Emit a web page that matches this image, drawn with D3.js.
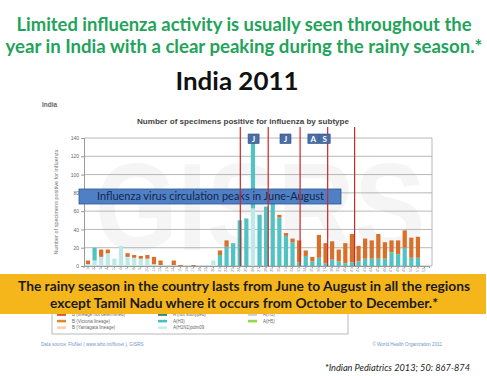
<!DOCTYPE html>
<html>
<head>
<meta charset="utf-8">
<script src="https://cdn.jsdelivr.net/npm/d3@7"></script>
<style>
  body { margin: 0; background: #fff; }
  svg { display: block; }
</style>
</head>
<body>
<svg id="chart"></svg>
<script>
// weekly positives, India 2011 (weeks 1-52)
const weeks = d3.range(1, 53);
const h1pdm = [2,6,10,14,8,22,10,9,8,8,2,1,1,1,0,0,0,0,1,6,
               0,0,0,0,0,63,0,0,0,0, 0,0,0,0,0,0,0,0,0,0,
               0,0,0,0,0,0,0,0,0,0, 0,0];
const h3    = [0,14,0,0,0,0,0,0,0,0,0,0,0,0,0,0,0,0,0,0,
               12,21,25,50,52,77,56,65,69,53, 33,26,4,11,5,9,3,7,5,3,
               4,5,8,8,8,8,15,13,20,9, 9,0];
const bVic  = [4,0,8,4,0,0,4,3,3,4,8,5,0,5,1,0,1,0,0,0,
               5,7,0,0,0,0,0,0,0,3, 3,4,24,6,5,25,22,20,13,22,
               31,17,22,20,27,18,13,15,19,22, 23,0];
const yTicks = [0, 20, 40, 60, 80, 100, 120, 140];

// month markers added on the slide (positions in weeks from start of year)
const monthLines = [23.6, 27.8, 32.6, 36.75, 40.8];
const monthLabels = ["J", "J", "A", "S"];
const monthLabelPos = [25.6, 30.4, 34.6, 36.3];

const legendCol1 = ["B (lineage not determined)", "B (Victoria lineage)", "B (Yamagata lineage)"];
const legendCol2 = ["A (not subtyped)", "A(H3)", "A(H1N1)pdm09"];
const legendCol3 = ["A(H1)", "A(H5)"];
const legendColors = {
  "B (lineage not determined)": "#e0582c", "B (Victoria lineage)": "#e0892f",
  "B (Yamagata lineage)": "#f6d2ad", "A (not subtyped)": "#2d8f72",
  "A(H3)": "#45bfbf", "A(H1N1)pdm09": "#c6eeee", "A(H1)": "#cfcfcf", "A(H5)": "#8fdc48"
};

const W = 487, H = 376;
const svg = d3.select("#chart").attr("width", W).attr("height", H);
svg.append("rect").attr("width", W).attr("height", H).attr("fill", "#fff");

// headline
const green = "#23a35a";
const head = ["Limited influenza activity is usually seen throughout the",
              "year in India with a clear peaking during the rainy season.*"];
const headW = [455, 477];
head.forEach((t, i) => {
  svg.append("text")
    .attr("x", 244).attr("y", 31 + i * 22)
    .attr("text-anchor", "middle")
    .attr("font-family", "Lato, 'Open Sans', sans-serif")
    .attr("font-weight", "bold").attr("font-size", 18)
    .attr("fill", green)
    .attr("textLength", headW[i]).attr("lengthAdjust", "spacingAndGlyphs")
    .text(t);
});

svg.append("text")
  .attr("x", 237).attr("y", 90)
  .attr("text-anchor", "middle")
  .attr("font-family", "Lato, 'Open Sans', sans-serif")
  .attr("font-weight", "bold").attr("font-size", 25)
  .attr("fill", "#111")
  .attr("textLength", 123).attr("lengthAdjust", "spacingAndGlyphs")
  .text("India 2011");

// ---- embedded FluNet chart ----
const plot = {left: 84, right: 432, top: 138, bottom: 266};

const x = d3.scaleBand().domain(weeks).range([83.5, 429]).padding(0.36);
const xw = d3.scaleLinear().domain([0, 52]).range([83.5, 429]);
const y = d3.scaleLinear().domain([0, 140]).range([plot.bottom, plot.top]);

svg.append("text").attr("x", 42).attr("y", 107)
  .attr("font-family", "'Liberation Sans', Arial, sans-serif")
  .attr("font-size", 6.5).attr("font-weight", "bold").attr("fill", "#666")
  .text("India");

svg.append("text").attr("x", 243).attr("y", 124)
  .attr("text-anchor", "middle")
  .attr("font-family", "'Liberation Sans', Arial, sans-serif")
  .attr("font-size", 7).attr("font-weight", "bold").attr("fill", "#444")
  .attr("textLength", 212).attr("lengthAdjust", "spacingAndGlyphs")
  .text("Number of specimens positive for influenza by subtype");

// GISRS watermark
svg.append("text").attr("x", 260).attr("y", 250)
  .attr("text-anchor", "middle")
  .attr("font-family", "'Liberation Sans', Arial, sans-serif")
  .attr("font-weight", "bold").attr("font-size", 125)
  .attr("fill", "#f5f5f5")
  .attr("textLength", 330).attr("lengthAdjust", "spacingAndGlyphs")
  .text("GISRS");

// gridlines
svg.append("g")
  .selectAll("line").data(yTicks).join("line")
  .attr("x1", plot.left).attr("x2", plot.right)
  .attr("y1", d => y(d)).attr("y2", d => y(d))
  .attr("stroke", "#a6a6a6").attr("stroke-width", 0.8);
svg.append("line")
  .attr("x1", plot.right).attr("x2", plot.right)
  .attr("y1", plot.top).attr("y2", plot.bottom)
  .attr("stroke", "#a6a6a6").attr("stroke-width", 0.8);

// y axis
const yAxis = svg.append("g")
  .attr("transform", `translate(${plot.left},0)`)
  .call(d3.axisLeft(y).tickValues(yTicks).tickSize(3).tickPadding(2));
yAxis.select(".domain").attr("stroke", "#999");
yAxis.selectAll(".tick line").attr("stroke", "#999");
yAxis.selectAll("text").attr("font-size", 5).attr("fill", "#666")
  .attr("font-family", "'Liberation Sans', Arial, sans-serif");

svg.append("text")
  .attr("transform", "translate(58,202) rotate(-90)")
  .attr("text-anchor", "middle")
  .attr("font-family", "'Liberation Sans', Arial, sans-serif")
  .attr("font-size", 5.5).attr("fill", "#777")
  .text("Number of specimens positive for influenza");

// x axis (week numbers)
const xAxis = svg.append("g")
  .attr("transform", `translate(0,${plot.bottom})`)
  .call(d3.axisBottom(x).tickSize(2).tickPadding(1));
xAxis.select(".domain").attr("stroke", "#999");
xAxis.selectAll(".tick line").attr("stroke", "#999");
xAxis.selectAll("text")
  .attr("font-size", 4).attr("fill", "#8a8a8a")
  .attr("font-family", "'Liberation Sans', Arial, sans-serif")
  .attr("transform", "rotate(-90)")
  .attr("text-anchor", "end").attr("dx", "-0.4em").attr("dy", "-0.6em");

// stacked bars
const rows = weeks.map((w, i) => ({week: w, h1pdm: h1pdm[i], h3: h3[i], bVic: bVic[i]}));
const keys = ["h1pdm", "h3", "bVic"];
const colors = {h1pdm: "#bde9e8", h3: "#52c3c2", bVic: "#d8702c"};
const series = d3.stack().keys(keys)(rows);

svg.append("g")
  .selectAll("g").data(series).join("g")
  .attr("fill", d => colors[d.key])
  .selectAll("rect").data(d => d).join("rect")
  .attr("x", d => x(d.data.week))
  .attr("width", x.bandwidth())
  .attr("y", d => y(d[1]))
  .attr("height", d => y(d[0]) - y(d[1]));

// blue banner (sits over the bars, under the month lines)
svg.append("rect")
  .attr("x", 79).attr("y", 189).attr("width", 262).attr("height", 15)
  .attr("fill", "#4f80c6").attr("stroke", "#2c5593").attr("stroke-width", 0.8);
svg.append("text")
  .attr("x", 97).attr("y", 200)
  .attr("font-family", "Lato, 'Open Sans', sans-serif")
  .attr("font-size", 10.5).attr("fill", "#15254a")
  .attr("textLength", 227).attr("lengthAdjust", "spacingAndGlyphs")
  .text("Influenza virus circulation peaks in June-August");

// red month lines and labels
svg.append("g")
  .selectAll("line").data(monthLines).join("line")
  .attr("x1", d => xw(d)).attr("x2", d => xw(d))
  .attr("y1", 127).attr("y2", plot.bottom)
  .attr("stroke", "#c8262b").attr("stroke-width", 1.2);

const mg = svg.append("g")
  .selectAll("g").data(monthLabels).join("g")
  .attr("transform", (d, i) => `translate(${xw(monthLabelPos[i])},139)`);
mg.append("rect")
  .attr("x", -5.5).attr("y", -5).attr("width", 11).attr("height", 9.5)
  .attr("fill", "#4a6ea6").attr("stroke", "#2f4f80").attr("stroke-width", 0.6);
mg.append("text")
  .attr("text-anchor", "middle").attr("y", 3)
  .attr("font-family", "Lato, 'Open Sans', sans-serif")
  .attr("font-weight", "bold").attr("font-size", 8).attr("fill", "#fff")
  .text(d => d);

// legend box (mostly hidden by the yellow banner)
svg.append("rect")
  .attr("x", 52).attr("y", 296).attr("width", 296).attr("height", 38)
  .attr("fill", "#fff").attr("stroke", "#9a9a9a").attr("stroke-width", 0.7);
const legCols = [[legendCol1, 57], [legendCol2, 158], [legendCol3, 248]];
legCols.forEach(([items, lx]) => {
  const lg = svg.append("g").selectAll("g").data(items).join("g")
    .attr("transform", (d, i) => `translate(${lx},${314.5 + i * 6.5})`);
  lg.append("rect").attr("y", -1.2).attr("width", 9).attr("height", 2.6)
    .attr("fill", d => legendColors[d]);
  lg.append("text").attr("x", 15).attr("y", 1.6)
    .attr("font-family", "'Liberation Sans', Arial, sans-serif")
    .attr("font-size", 4.5).attr("fill", "#666")
    .text(d => d);
});

svg.append("text").attr("x", 41).attr("y", 346)
  .attr("font-family", "'Liberation Sans', Arial, sans-serif")
  .attr("font-size", 4.6).attr("fill", "#7196cc")
  .text("Data source: FluNet ( www.who.int/flunet ), GISRS");
svg.append("text").attr("x", 442).attr("y", 346)
  .attr("text-anchor", "end")
  .attr("font-family", "'Liberation Sans', Arial, sans-serif")
  .attr("font-size", 4.6).attr("fill", "#7196cc")
  .text("\u00a9 World Health Organization 2011");

// yellow note
svg.append("rect")
  .attr("x", 0).attr("y", 274).attr("width", 486).attr("height", 40)
  .attr("fill", "#f5b61c");
const note = ["The rainy season in the country lasts from June to August in all the regions",
              "except Tamil Nadu where it occurs from October to December.*"];
const noteW = [452, 388];
note.forEach((t, i) => {
  svg.append("text")
    .attr("x", 244).attr("y", 291 + i * 16.5)
    .attr("text-anchor", "middle")
    .attr("font-family", "Lato, 'Open Sans', sans-serif")
    .attr("font-weight", "bold").attr("font-size", 14)
    .attr("fill", "#1b1b1b")
    .attr("textLength", noteW[i]).attr("lengthAdjust", "spacingAndGlyphs")
    .text(t);
});

svg.append("text")
  .attr("x", 470).attr("y", 371)
  .attr("text-anchor", "end")
  .attr("font-family", "Lato, 'Open Sans', sans-serif")
  .attr("font-style", "italic").attr("font-size", 9.5).attr("fill", "#222")
  .attr("textLength", 145).attr("lengthAdjust", "spacingAndGlyphs")
  .text("*Indian Pediatrics 2013; 50: 867-874");
</script>
</body>
</html>
